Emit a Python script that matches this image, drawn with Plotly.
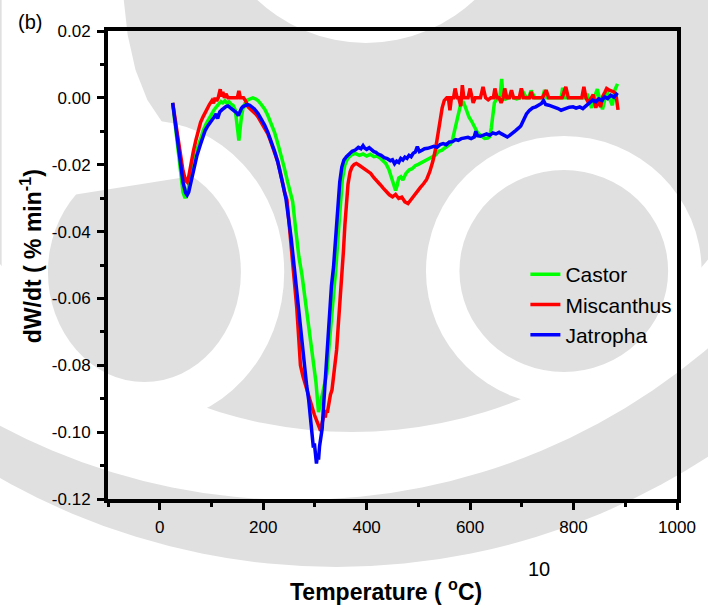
import plotly.graph_objects as go

# ---------------- data ----------------
castor_T = [25, 30, 35, 40, 45, 49, 53, 58, 63, 68,
            73, 78, 84, 90, 95, 100, 105, 110, 114, 118,
            122, 126, 130, 134, 138, 142, 146, 149, 151, 153,
            155, 158, 161, 165, 170, 175, 180, 185, 190, 196,
            203, 209, 215, 222, 228, 235, 241, 247, 253, 257,
            263, 269, 275, 282, 289, 297, 302, 307, 311, 315,
            319, 323, 327, 332, 336, 341, 345, 349, 353, 358,
            363, 370, 378, 386, 393, 400, 407, 414, 420, 426,
            431, 437, 443, 448, 452, 456, 459, 462, 466, 470,
            476, 482, 488, 494, 500, 507, 514, 520, 527, 533,
            539, 545, 551, 557, 562, 566, 570, 574, 578, 581,
            584, 587, 590, 594, 598, 603, 609, 615, 621, 628,
            634, 638, 641, 644, 647, 650, 654, 658, 661, 664,
            668, 674, 680, 684, 690, 697, 703, 709, 713, 718,
            725, 732, 740, 744, 748, 755, 762, 770, 776, 779,
            783, 790, 798, 806, 814, 822, 826, 830, 835, 840,
            846, 851, 856, 860, 865, 870, 875, 880, 885]
castor_dW = [-0.0015, -0.0085, -0.0155, -0.0225, -0.0282, -0.0300, -0.0285, -0.0250, -0.0210, -0.0178,
             -0.0150, -0.0125, -0.0098, -0.0077, -0.0062, -0.0050, -0.0036, -0.0026, -0.0016, -0.0011,
             -0.0015, -0.0009, -0.0016, -0.0012, -0.0019, -0.0023, -0.0036, -0.0066, -0.0100, -0.0128,
             -0.0094, -0.0056, -0.0031, -0.0016, -0.0006, -0.0002, 0.0000, -0.0003, -0.0008, -0.0019,
             -0.0034, -0.0053, -0.0074, -0.0103, -0.0135, -0.0172, -0.0210, -0.0250, -0.0292, -0.0310,
             -0.0395, -0.0475, -0.0530, -0.0615, -0.0700, -0.0790, -0.0850, -0.0940, -0.0910, -0.0880,
             -0.0855, -0.0825, -0.0750, -0.0670, -0.0605, -0.0500, -0.0410, -0.0310, -0.0245, -0.0200,
             -0.0182, -0.0171, -0.0166, -0.0172, -0.0168, -0.0174, -0.0169, -0.0176, -0.0174, -0.0180,
             -0.0187, -0.0196, -0.0214, -0.0240, -0.0262, -0.0277, -0.0262, -0.0240, -0.0236, -0.0246,
             -0.0226, -0.0216, -0.0212, -0.0203, -0.0199, -0.0194, -0.0187, -0.0182, -0.0176, -0.0171,
             -0.0160, -0.0157, -0.0150, -0.0144, -0.0138, -0.0125, -0.0095, -0.0068, -0.0040, -0.0025,
             -0.0016, -0.0014, -0.0024, -0.0042, -0.0058, -0.0070, -0.0090, -0.0106, -0.0112, -0.0121,
             -0.0120, -0.0116, -0.0090, -0.0040, -0.0015, -0.0007, -0.0002, 0.0006, 0.0057, 0.0002,
             -0.0004, 0.0000, 0.0012, 0.0000, -0.0003, 0.0000, 0.0016, 0.0000, 0.0000, 0.0022,
             0.0000, 0.0000, 0.0000, 0.0024, 0.0000, 0.0000, 0.0000, 0.0000, 0.0000, 0.0030,
             0.0000, 0.0000, 0.0000, 0.0000, 0.0000, 0.0000, 0.0012, -0.0008, -0.0030, 0.0000,
             0.0026, -0.0010, -0.0034, -0.0008, 0.0020, -0.0004, -0.0022, 0.0024, 0.0042]

misc_T = [25, 30, 35, 40, 45, 50, 53, 56, 60, 65,
          70, 75, 79, 84, 88, 92, 96, 101, 104, 107,
          110, 113, 117, 119, 122, 125, 128, 132, 138, 144,
          150, 153, 156, 162, 166, 171, 176, 181, 186, 190,
          195, 200, 205, 209, 214, 219, 224, 228, 233, 237,
          241, 246, 251, 256, 261, 265, 269, 272, 277, 282,
          288, 294, 299, 304, 308, 311, 313, 316, 318, 320,
          322, 324, 327, 330, 333, 336, 339, 342, 345, 348,
          352, 355, 358, 361, 364, 368, 372, 376, 380, 385,
          390, 396, 402, 408, 414, 420, 426, 432, 438, 444,
          450, 456, 462, 468, 474, 480, 486, 492, 498, 504,
          510, 516, 522, 528, 533, 538, 542, 546, 550, 555,
          558, 561, 564, 568, 571, 575, 578, 582, 585, 588,
          592, 596, 600, 603, 606, 610, 616, 620, 625, 630,
          635, 640, 645, 648, 652, 656, 660, 664, 667, 671,
          676, 680, 684, 690, 695, 699, 703, 710, 715, 718,
          722, 730, 740, 747, 752, 760, 770, 778, 785, 790,
          800, 810, 816, 820, 824, 829, 834, 838, 843, 848,
          852, 857, 861, 864, 868, 873, 878, 882, 885, 886]
misc_dW = [-0.0015, -0.0070, -0.0120, -0.0170, -0.0218, -0.0248, -0.0252, -0.0236, -0.0200, -0.0160,
           -0.0126, -0.0096, -0.0073, -0.0056, -0.0042, -0.0031, -0.0020, -0.0008, -0.0016, 0.0000,
           -0.0009, 0.0000, 0.0026, 0.0004, 0.0018, 0.0000, 0.0012, 0.0000, 0.0000, 0.0000,
           0.0000, 0.0021, 0.0000, 0.0000, -0.0009, -0.0027, -0.0034, -0.0040, -0.0049, -0.0057,
           -0.0070, -0.0085, -0.0098, -0.0108, -0.0128, -0.0150, -0.0172, -0.0190, -0.0222, -0.0255,
           -0.0280, -0.0306, -0.0385, -0.0470, -0.0545, -0.0630, -0.0725, -0.0800, -0.0834, -0.0862,
           -0.0893, -0.0922, -0.0948, -0.0968, -0.0984, -0.0996, -0.0978, -0.0962, -0.0946, -0.0956,
           -0.0934, -0.0942, -0.0906, -0.0888, -0.0874, -0.0832, -0.0792, -0.0754, -0.0684, -0.0620,
           -0.0555, -0.0462, -0.0380, -0.0310, -0.0258, -0.0222, -0.0206, -0.0199, -0.0196, -0.0201,
           -0.0206, -0.0212, -0.0217, -0.0226, -0.0239, -0.0251, -0.0259, -0.0270, -0.0281, -0.0290,
           -0.0296, -0.0289, -0.0301, -0.0297, -0.0311, -0.0316, -0.0304, -0.0291, -0.0281, -0.0268,
           -0.0257, -0.0244, -0.0221, -0.0190, -0.0155, -0.0110, -0.0062, -0.0030, -0.0008, 0.0000,
           0.0000, -0.0037, 0.0000, 0.0000, 0.0028, 0.0000, 0.0000, -0.0025, 0.0038, 0.0000,
           0.0000, 0.0000, 0.0028, 0.0000, -0.0015, 0.0000, 0.0000, 0.0000, 0.0033, 0.0000,
           -0.0006, 0.0000, 0.0000, 0.0028, 0.0000, 0.0000, -0.0015, 0.0000, 0.0028, 0.0000,
           0.0000, 0.0023, 0.0000, 0.0000, 0.0000, 0.0028, 0.0000, 0.0000, 0.0000, 0.0018,
           0.0000, 0.0000, 0.0000, 0.0023, 0.0000, 0.0000, 0.0000, 0.0000, 0.0033, 0.0000,
           0.0000, 0.0000, 0.0000, 0.0033, 0.0000, -0.0015, 0.0000, 0.0010, -0.0030, 0.0000,
           -0.0028, 0.0006, 0.0018, 0.0028, 0.0024, 0.0022, 0.0018, 0.0010, -0.0030, -0.0036]

jat_T = [25, 30, 35, 40, 45, 50, 53, 56, 60, 66,
         72, 79, 84, 88, 92, 96, 101, 105, 109, 112,
         116, 120, 124, 128, 132, 136, 140, 144, 148, 152,
         155, 158, 161, 165, 170, 174, 178, 183, 190, 197,
         203, 209, 215, 222, 228, 233, 238, 244, 249, 254,
         260, 265, 270, 276, 280, 284, 288, 291, 295, 297,
         299, 301, 303, 305, 307, 309, 311, 314, 316, 319,
         323, 327, 332, 336, 340, 343, 346, 348, 352, 356,
         361, 366, 372, 378, 384, 389, 393, 396, 400, 405,
         410, 414, 418, 422, 428, 434, 440, 446, 450, 454,
         458, 462, 466, 470, 474, 478, 482, 486, 490, 494,
         498, 502, 507, 512, 518, 524, 530, 536, 542, 548,
         554, 560, 566, 572, 577, 583, 590, 596, 602, 608,
         611, 614, 620, 626, 632, 638, 644, 650, 656, 660,
         666, 672, 676, 682, 688, 694, 698, 703, 709, 715,
         721, 727, 733, 738, 742, 746, 752, 758, 764, 770,
         776, 780, 786, 792, 799, 805, 812, 818, 824, 830,
         837, 843, 849, 855, 860, 866, 872, 878, 882, 885]
jat_dW = [-0.0015, -0.0078, -0.0140, -0.0200, -0.0252, -0.0284, -0.0291, -0.0282, -0.0256, -0.0218,
          -0.0172, -0.0138, -0.0112, -0.0097, -0.0086, -0.0075, -0.0066, -0.0058, -0.0048, -0.0062,
          -0.0042, -0.0036, -0.0030, -0.0026, -0.0024, -0.0029, -0.0032, -0.0037, -0.0044, -0.0053,
          -0.0041, -0.0031, -0.0026, -0.0022, -0.0020, -0.0022, -0.0026, -0.0033, -0.0047, -0.0064,
          -0.0082, -0.0103, -0.0127, -0.0160, -0.0191, -0.0222, -0.0258, -0.0302, -0.0355, -0.0418,
          -0.0506, -0.0580, -0.0660, -0.0754, -0.0812, -0.0860, -0.0904, -0.0948, -0.1022, -0.1046,
          -0.1034, -0.1074, -0.1094, -0.1068, -0.1082, -0.1042, -0.1020, -0.0990, -0.0940, -0.0868,
          -0.0754, -0.0645, -0.0562, -0.0506, -0.0420, -0.0352, -0.0298, -0.0252, -0.0207, -0.0186,
          -0.0176, -0.0169, -0.0160, -0.0156, -0.0148, -0.0152, -0.0143, -0.0150, -0.0154, -0.0149,
          -0.0157, -0.0161, -0.0163, -0.0168, -0.0172, -0.0179, -0.0182, -0.0188, -0.0185, -0.0197,
          -0.0189, -0.0193, -0.0181, -0.0186, -0.0177, -0.0181, -0.0172, -0.0176, -0.0166, -0.0162,
          -0.0146, -0.0161, -0.0157, -0.0152, -0.0151, -0.0149, -0.0145, -0.0148, -0.0140, -0.0137,
          -0.0140, -0.0132, -0.0131, -0.0125, -0.0127, -0.0122, -0.0120, -0.0118, -0.0122, -0.0117,
          -0.0100, -0.0113, -0.0115, -0.0111, -0.0108, -0.0112, -0.0105, -0.0108, -0.0103, -0.0107,
          -0.0112, -0.0117, -0.0113, -0.0104, -0.0098, -0.0090, -0.0084, -0.0068, -0.0048, -0.0037,
          -0.0030, -0.0027, -0.0022, -0.0017, -0.0008, -0.0020, -0.0022, -0.0025, -0.0027, -0.0032,
          -0.0037, -0.0035, -0.0030, -0.0028, -0.0027, -0.0031, -0.0027, -0.0032, -0.0024, -0.0015,
          -0.0007, -0.0012, -0.0003, -0.0008, 0.0003, -0.0002, 0.0008, 0.0002, 0.0010, 0.0015]

series_names = ["Castor", "Miscanthus", "Jatropha"]
x_tickvals = [0, 200, 400, 600, 800, 1000]
x_ticktext = ["0", "200", "400", "600", "800", "1000"]
y_tickvals = [-0.12, -0.10, -0.08, -0.06, -0.04, -0.02, 0.00, 0.02]
y_ticktext = ["-0.12", "-0.10", "-0.08", "-0.06", "-0.04", "-0.02", "0.00", "0.02"]

assert len(castor_T) == len(castor_dW)
assert len(misc_T) == len(misc_dW)
assert len(jat_T) == len(jat_dW)

# ---------------- figure ----------------
W, H = 708, 608
L, R, T, B = 108, 22, 31, 109
PW, PH = W - L - R, H - T - B
BOTTOM = H - B

def px(xp):
    return (xp - L) / PW

def py(yp):
    return (BOTTOM - yp) / PH

GREY = "#e0e0e0"

def ell(cx, cy, rx, ry, color):
    return dict(type="circle", xref="paper", yref="paper", layer="below",
                x0=px(cx - rx), x1=px(cx + rx), y0=py(cy + ry), y1=py(cy - ry),
                fillcolor=color, line=dict(width=0))

def poly(points, color):
    d = "M " + " L ".join(f"{px(a):.4f},{py(b):.4f}" for a, b in points) + " Z"
    return dict(type="path", xref="paper", yref="paper", layer="below", path=d,
                fillcolor=color, line=dict(width=0))

# faint background watermark (logo) behind the chart
shapes = [
    ell(340, -134, 701, 701, GREY),
    ell(300, -150, 650, 650, "white"),
    ell(356, -33, 465, 465, GREY),
    ell(145, 272, 142, 152, "white"),
    ell(145, 272, 98, 110, GREY),
    ell(571, 271, 140, 135, "white"),
    ell(571, 271, 106, 101, GREY),
    ell(370, -120, 163, 163, "white"),
    poly([(0, 0), (124, 0), (128, 35), (136, 70), (148, 100), (165, 125),
          (190, 145), (200, 175), (40, 200), (0, 330)], "white"),
]

fig = go.Figure()
colors = ["#00ff00", "#ff0000", "#0000ff"]
for name, xs, ys, c in zip(series_names, [castor_T, misc_T, jat_T],
                           [castor_dW, misc_dW, jat_dW], colors):
    fig.add_trace(go.Scatter(x=xs, y=ys, mode="lines", name=name,
                             line=dict(color=c, width=3.5)))

FONT = "Liberation Sans, Arial, sans-serif"
axis_common = dict(showgrid=False, zeroline=False, showline=True, linecolor="black",
                   linewidth=4, mirror=True, ticks="outside", ticklen=7, tickwidth=3,
                   tickcolor="black", tickfont=dict(family=FONT, size=17, color="black"))

fig.update_xaxes(range=[-100, 1000], tickmode="array", tickvals=x_tickvals,
                 ticktext=x_ticktext, ticklabelstandoff=3,
                 minor=dict(tickmode="linear", tick0=0, dtick=100, ticks="outside",
                            ticklen=4, tickwidth=3, tickcolor="black", showgrid=False),
                 **axis_common)
fig.update_yaxes(range=[-0.12, 0.02], tickmode="array", tickvals=y_tickvals,
                 ticktext=y_ticktext, ticklabelstandoff=3,
                 minor=dict(tickmode="linear", tick0=0, dtick=0.01, ticks="outside",
                            ticklen=4, tickwidth=3, tickcolor="black", showgrid=False),
                 **axis_common)

annotations = [
    dict(text="(b)", x=px(29), y=py(22), font=dict(size=20)),
    dict(text="10", x=px(546), y=py(569), font=dict(size=20)),
    dict(text="<b>Temperature ( <sup>o</sup>C)</b>", x=px(390), y=py(590), font=dict(size=23)),
    dict(text="<b>dW/dt ( % min<sup>-1</sup>)</b>", x=px(30), y=py(256), textangle=-90,
         font=dict(size=23)),
]
for a in annotations:
    a.update(xref="paper", yref="paper", showarrow=False, xanchor="center", yanchor="middle")
    a["font"].update(family=FONT, color="black")

fig.update_layout(
    width=W, height=H, margin=dict(l=L, r=R, t=T, b=B, pad=0),
    paper_bgcolor="white", plot_bgcolor="rgba(0,0,0,0)",
    font=dict(family=FONT, color="black"),
    shapes=shapes, annotations=annotations,
    legend=dict(x=px(532), y=py(254), xanchor="left", yanchor="top",
                bgcolor="rgba(0,0,0,0)", font=dict(family=FONT, size=21, color="black"),
                tracegroupgap=0),
)

fig.write_html("out.html", config={"displayModeBar": False})
